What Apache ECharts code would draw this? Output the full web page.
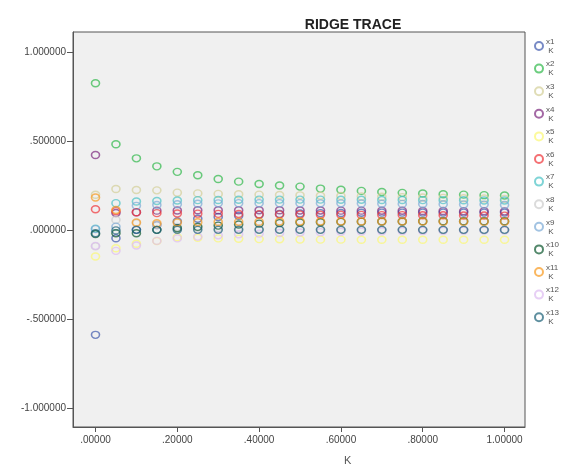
<!DOCTYPE html>
<html>
<head>
<meta charset="utf-8">
<script src="https://cdn.jsdelivr.net/npm/echarts@6/dist/echarts.min.js"></script>
<style>html,body{margin:0;padding:0;background:#fff}#c{width:562px;height:468px}</style>
</head>
<body>
<div id="c"></div>
<script>
const kValues = [0, 0.05, 0.10, 0.15, 0.20, 0.25, 0.30, 0.35, 0.40, 0.45, 0.50, 0.55, 0.60, 0.65, 0.70, 0.75, 0.80, 0.85, 0.90, 0.95, 1.00];
const seriesNames = ['x1','x2','x3','x4','x5','x6','x7','x8','x9','x10','x11','x12','x13'];
const x1 = [-0.587, -0.044, 0.003, 0.030, 0.050, 0.065, 0.075, 0.082, 0.088, 0.092, 0.095, 0.097, 0.098, 0.099, 0.100, 0.100, 0.100, 0.100, 0.100, 0.100, 0.100];
const x2 = [0.827, 0.484, 0.405, 0.360, 0.329, 0.310, 0.289, 0.274, 0.261, 0.252, 0.246, 0.235, 0.228, 0.222, 0.216, 0.211, 0.207, 0.203, 0.201, 0.198, 0.196];
const x3 = [0.200, 0.233, 0.227, 0.225, 0.212, 0.208, 0.205, 0.203, 0.201, 0.199, 0.197, 0.195, 0.193, 0.191, 0.189, 0.187, 0.185, 0.183, 0.181, 0.179, 0.177];
const x4 = [0.424, 0.098, 0.102, 0.111, 0.112, 0.113, 0.113, 0.113, 0.113, 0.113, 0.112, 0.112, 0.111, 0.111, 0.110, 0.110, 0.109, 0.109, 0.108, 0.108, 0.107];
const x5 = [-0.147, -0.100, -0.075, -0.060, -0.038, -0.042, -0.045, -0.047, -0.049, -0.050, -0.051, -0.052, -0.052, -0.053, -0.053, -0.053, -0.053, -0.053, -0.053, -0.053, -0.053];
const x6 = [0.119, 0.108, 0.102, 0.097, 0.095, 0.094, 0.093, 0.092, 0.091, 0.090, 0.089, 0.088, 0.088, 0.087, 0.086, 0.086, 0.085, 0.085, 0.084, 0.084, 0.083];
const x7 = [0.010, 0.153, 0.162, 0.165, 0.168, 0.170, 0.171, 0.172, 0.173, 0.173, 0.173, 0.173, 0.172, 0.172, 0.171, 0.171, 0.170, 0.170, 0.169, 0.168, 0.168];
const x8 = [-0.090, 0.059, 0.040, 0.030, 0.020, 0.015, 0.012, 0.010, 0.008, 0.007, 0.006, 0.005, 0.004, 0.004, 0.003, 0.003, 0.002, 0.002, 0.001, 0.001, 0.000];
const x9 = [0.007, 0.021, 0.138, 0.143, 0.147, 0.150, 0.152, 0.153, 0.153, 0.153, 0.153, 0.152, 0.152, 0.151, 0.150, 0.149, 0.148, 0.147, 0.146, 0.145, 0.143];
const x10 = [-0.020, -0.016, -0.016, 0.003, 0.012, 0.020, 0.027, 0.033, 0.038, 0.041, 0.044, 0.046, 0.048, 0.049, 0.050, 0.050, 0.051, 0.051, 0.051, 0.051, 0.051];
const x11 = [0.185, 0.115, 0.044, 0.040, 0.044, 0.046, 0.047, 0.048, 0.049, 0.050, 0.050, 0.050, 0.050, 0.050, 0.050, 0.050, 0.050, 0.049, 0.049, 0.049, 0.049];
const x12 = [-0.087, -0.115, -0.085, -0.059, -0.045, -0.035, -0.028, -0.022, -0.018, -0.015, -0.012, -0.010, -0.008, -0.006, -0.005, -0.004, -0.003, -0.002, -0.001, 0.000, 0.000];
const x13 = [-0.016, 0.000, 0.003, 0.003, 0.003, 0.003, 0.003, 0.003, 0.003, 0.003, 0.003, 0.003, 0.003, 0.003, 0.003, 0.003, 0.003, 0.003, 0.003, 0.003, 0.003];
const yTicks = [-1, -0.5, 0, 0.5, 1];
const xTicks = [0, 0.2, 0.4, 0.6, 0.8, 1.0];

const allValues = [x1,x2,x3,x4,x5,x6,x7,x8,x9,x10,x11,x12,x13];
const colors = ['#3E58AC','#2EB848','#D3CE97','#7C287D','#FBF873','#EF3338','#48C2C5','#CCCCCC','#7AAAD5','#0A562C','#F8981D','#DDBAF1','#1A5F76'];

function fmt(v, d) {
  let s = Math.abs(v).toFixed(d);
  if (s.startsWith('0')) s = s.slice(1);
  return (v < 0 ? '-' : '') + s;
}
const FONT = 'Liberation Sans, Arial, sans-serif';

const chart = echarts.init(document.getElementById('c'), null, {renderer: 'canvas'});
chart.setOption({
  animation: false,
  backgroundColor: '#ffffff',
  title: {
    text: 'RIDGE TRACE',
    left: 348, top: 13, textAlign: 'center',
    textStyle: {fontFamily: FONT, fontSize: 14, fontWeight: 'bold', color: '#222'}
  },
  grid: {
    left: 73, right: 37, top: 32, bottom: 41,
    show: true, backgroundColor: '#f0f0f0', borderColor: '#555', borderWidth: 1
  },
  legend: {
    orient: 'vertical', left: 529, top: 32,
    itemWidth: 10, itemHeight: 8, itemGap: 4.6,
    formatter: '{name}\n K',
    textStyle: {fontFamily: FONT, fontSize: 8, lineHeight: 9, color: '#555', padding: [0,0,0,-3]},
    data: seriesNames
  },
  xAxis: {
    type: 'value', min: -0.055, max: 1.05,
    axisLine: {show: true, onZero: false, lineStyle: {color: '#555'}},
    axisTick: {show: true, length: 5, lineStyle: {color: '#555'}, customValues: xTicks},
    axisLabel: {customValues: xTicks, formatter: v => fmt(v, 5), fontFamily: FONT, fontSize: 10, color: '#444', margin: 8},
    splitLine: {show: false}
  },
  yAxis: {
    type: 'value', min: -1.105, max: 1.115,
    axisLine: {show: true, onZero: false, lineStyle: {color: '#555'}},
    axisTick: {show: true, length: 6, lineStyle: {color: '#555'}, customValues: yTicks},
    axisLabel: {customValues: yTicks, formatter: v => fmt(v, 6), fontFamily: FONT, fontSize: 10, color: '#444', margin: 7},
    splitLine: {show: false}
  },
  graphic: [{
    type: 'text', left: 344, top: 455,
    style: {text: 'K', fontFamily: FONT, fontSize: 11, fill: '#555'}
  }],
  series: seriesNames.map((n, i) => ({
    name: n, type: 'scatter', symbol: 'circle', symbolSize: [8, 7],
    itemStyle: {color: 'rgba(0,0,0,0)', borderColor: colors[i], borderWidth: 1.5, opacity: 0.7},
    data: kValues.map((k, j) => [k, allValues[i][j]])
  }))
});
</script>
</body>
</html>
